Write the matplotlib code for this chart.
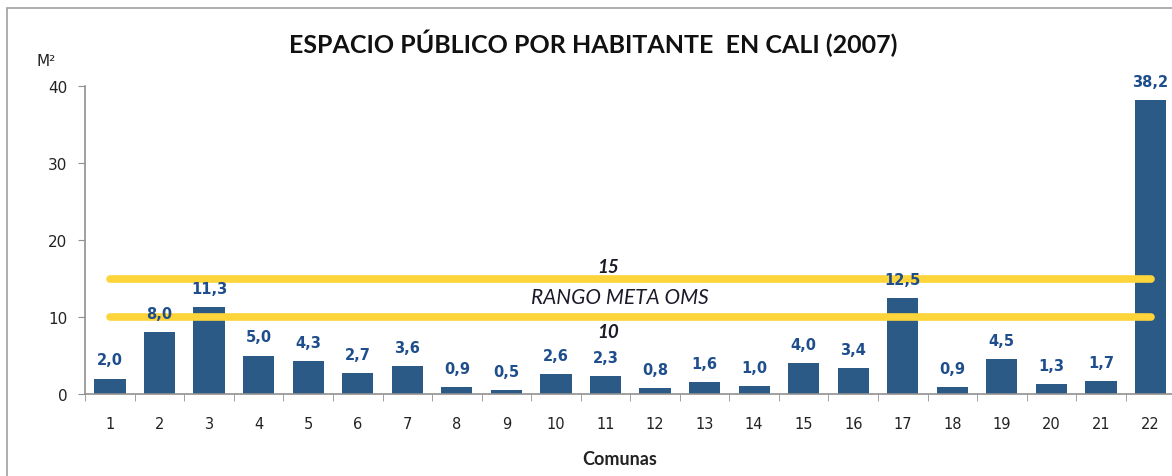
import numpy as np
import matplotlib.pyplot as plt
from matplotlib.patches import Rectangle

comunas = list(range(1, 23))
espacio = [2.0, 8.0, 11.3, 5.0, 4.3, 2.7, 3.6, 0.9, 0.5, 2.6, 2.3,
           0.8, 1.6, 1.0, 4.0, 3.4, 12.5, 0.9, 4.5, 1.3, 1.7, 38.2]
meta_min = 10
meta_max = 15
y_ticks = [0, 10, 20, 30, 40]

bar_color = '#2B5A86'
label_color = '#1F4E8C'
yellow = '#FDD43A'

fig = plt.figure(figsize=(11.72, 4.77), dpi=100)
W, H = 1172, 477

# marco gris del grafico
fig.patches.append(Rectangle((7 / W, -0.1), 1.2, (H - 9) / H + 0.1,
                             transform=fig.transFigure, fill=False,
                             edgecolor='#A0A0A0', linewidth=1.2))

ax = fig.add_axes([85.2 / W, (H - 395) / H, (1175.3 - 85.2) / W, (395 - 87) / H])
ax.bar(comunas, espacio, width=0.63, color=bar_color, zorder=2)

for x, v in zip(comunas, espacio):
    ax.annotate(f'{v:.1f}'.replace('.', ','), (x, v), xytext=(0, 8),
                textcoords='offset points', ha='center', va='bottom',
                color=label_color, fontsize=10.5, fontweight='bold',
                family='DejaVu Sans', zorder=4)

ax.plot([1, 22], [meta_max, meta_max], color=yellow, lw=5.5,
        solid_capstyle='round', zorder=3)
ax.plot([1, 22], [meta_min, meta_min], color=yellow, lw=5.5,
        solid_capstyle='round', zorder=3)
ax.text(11.05, meta_max + 0.4, str(meta_max), ha='center', va='bottom',
        fontsize=13.5, fontweight='bold', style='italic', color='#1A1A2A', family='Lato')
ax.text(11.3, (meta_max + meta_min) / 2 + 0.1, 'RANGO META OMS', ha='center', va='center',
        fontsize=15, style='italic', color='#1A1A2A', family='Lato')
ax.text(11.05, meta_min - 0.8, str(meta_min), ha='center', va='top',
        fontsize=13.5, fontweight='bold', style='italic', color='#1A1A2A', family='Lato')

ax.set_xlim(0.5, 22.5)
ax.set_ylim(0, 40)
ax.set_yticks(y_ticks)
ax.set_xticks(comunas)
ax.set_xticklabels([str(c) for c in comunas])
ax.set_xticks(np.arange(0.5, 23, 1), minor=True)
ax.tick_params(axis='x', which='major', length=0, pad=16, labelsize=10.5, labelcolor='#222222')
ax.tick_params(axis='x', which='minor', length=5, color='#909090', direction='out')
ax.tick_params(axis='y', length=5, color='#909090', labelsize=11, labelcolor='#222222', pad=8)

for s in ['top', 'right']:
    ax.spines[s].set_visible(False)
for s in ['left', 'bottom']:
    ax.spines[s].set_color('#909090')
    ax.spines[s].set_linewidth(1.2)

fig.text(593 / W, 1 - 43 / H, 'ESPACIO PÚBLICO POR HABITANTE  EN CALI (2007)',
         ha='center', va='center', fontsize=18, fontweight='bold', family='Lato', color='#111111')
fig.text(46 / W, 1 - 62 / H, 'M²', ha='center', va='center', fontsize=11,
         family='DejaVu Sans', color='#222222')
fig.text(620 / W, 1 - 460 / H, 'Comunas', ha='center', va='center', fontsize=13,
         fontweight='bold', family='Lato', color='#222222')

fig.savefig('out.png', dpi=100)
